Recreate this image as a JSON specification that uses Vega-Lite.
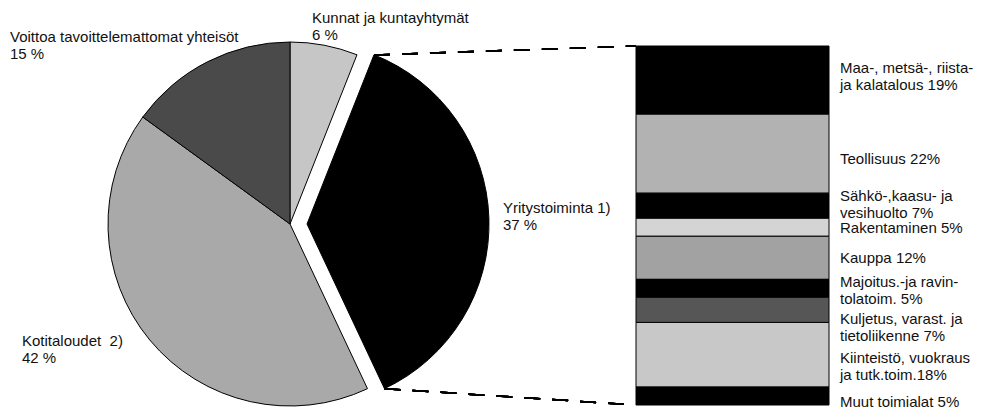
{
  "$schema": "https://vega.github.io/schema/vega-lite/v6.json",
  "background": "white",
  "padding": {"left": 0, "top": 11, "right": 0, "bottom": 0},
  "bounds": "flush",
  "spacing": 56,
  "resolve": {"scale": {"fill": "independent"}},
  "config": {
    "view": {"stroke": null},
    "font": "Liberation Sans",
    "text": {"font": "Liberation Sans", "fontSize": 15, "color": "#111"}
  },
  "hconcat": [
    {
      "width": 580,
      "height": 356,
      "data": {
        "values": [
          {"sektori": "Kunnat ja kuntayhtymät", "share": 6, "order": 1, "label": ["Kunnat ja kuntayhtymät", "6 %"]},
          {"sektori": "Yritystoiminta", "share": 37, "order": 2, "label": ["Yritystoiminta 1)", "37 %"]},
          {"sektori": "Kotitaloudet", "share": 42, "order": 3, "label": ["Kotitaloudet\u00a0 2)", "42 %"]},
          {"sektori": "Voittoa tavoittelemattomat yhteisöt", "share": 15, "order": 4, "label": ["Voittoa tavoittelemattomat yhteisöt", "15 %"]}
        ]
      },
      "transform": [
        {"stack": "share", "groupby": [], "sort": [{"field": "order"}], "as": ["t0", "t1"]}
      ],
      "layer": [
        {
          "transform": [{"filter": "datum.order != 2"}],
          "mark": {"type": "arc", "outerRadius": 182, "stroke": "black", "strokeWidth": 1},
          "encoding": {
            "theta": {"field": "t0", "type": "quantitative", "scale": {"domain": [0, 100]}},
            "theta2": {"field": "t1"},
            "fill": {
              "field": "sektori", "type": "nominal", "legend": null,
              "scale": {
                "domain": ["Kunnat ja kuntayhtymät", "Yritystoiminta", "Kotitaloudet", "Voittoa tavoittelemattomat yhteisöt"],
                "range": ["#c6c6c6", "#000000", "#a9a9a9", "#4a4a4a"]
              }
            }
          }
        },
        {
          "transform": [{"filter": "datum.order == 2"}],
          "mark": {"type": "arc", "outerRadius": 182, "stroke": "black", "strokeWidth": 1, "xOffset": 17},
          "encoding": {
            "theta": {"field": "t0", "type": "quantitative", "scale": {"domain": [0, 100]}},
            "theta2": {"field": "t1"},
            "fill": {
              "field": "sektori", "type": "nominal", "legend": null,
              "scale": {
                "domain": ["Kunnat ja kuntayhtymät", "Yritystoiminta", "Kotitaloudet", "Voittoa tavoittelemattomat yhteisöt"],
                "range": ["#c6c6c6", "#000000", "#a9a9a9", "#4a4a4a"]
              }
            }
          }
        },
        {
          "transform": [{"filter": "datum.order == 1"}],
          "mark": {"type": "text", "align": "left", "baseline": "alphabetic", "lineHeight": 17, "dx": 22, "dy": -201},
          "encoding": {"text": {"field": "label"}}
        },
        {
          "transform": [{"filter": "datum.order == 2"}],
          "mark": {"type": "text", "align": "left", "baseline": "alphabetic", "lineHeight": 17, "dx": 213, "dy": -11},
          "encoding": {"text": {"field": "label"}}
        },
        {
          "transform": [{"filter": "datum.order == 3"}],
          "mark": {"type": "text", "align": "left", "baseline": "alphabetic", "lineHeight": 17, "dx": -268, "dy": 122},
          "encoding": {"text": {"field": "label"}}
        },
        {
          "transform": [{"filter": "datum.order == 4"}],
          "mark": {"type": "text", "align": "left", "baseline": "alphabetic", "lineHeight": 17, "dx": -280, "dy": -182},
          "encoding": {"text": {"field": "label"}}
        }
      ]
    },
    {
      "width": 193,
      "height": 359,
      "data": {
        "values": [
          {"toimiala": "Maa-, metsä-, riista- ja kalatalous", "share": 19, "order": 1, "label": ["Maa-, metsä-, riista-", "\u00a0ja kalatalous 19%"]},
          {"toimiala": "Teollisuus", "share": 22, "order": 2, "label": ["Teollisuus 22%"]},
          {"toimiala": "Sähkö-, kaasu- ja vesihuolto", "share": 7, "order": 3, "label": ["Sähkö-,kaasu- ja", "vesihuolto 7%"]},
          {"toimiala": "Rakentaminen", "share": 5, "order": 4, "label": ["Rakentaminen 5%"]},
          {"toimiala": "Kauppa", "share": 12, "order": 5, "label": ["Kauppa 12%"]},
          {"toimiala": "Majoitus- ja ravitsemistoiminta", "share": 5, "order": 6, "label": ["Majoitus.-ja ravin-", "tolatoim. 5%"]},
          {"toimiala": "Kuljetus, varastointi ja tietoliikenne", "share": 7, "order": 7, "label": ["Kuljetus, varast. ja", "tietoliikenne 7%"]},
          {"toimiala": "Kiinteistö, vuokraus ja tutkimustoiminta", "share": 18, "order": 8, "label": ["Kiinteistö, vuokraus", "ja tutk.toim.18%"]},
          {"toimiala": "Muut toimialat", "share": 5, "order": 9, "label": ["Muut toimialat 5%"]}
        ]
      },
      "transform": [
        {"stack": "share", "groupby": [], "sort": [{"field": "order"}], "as": ["y0", "y1"]}
      ],
      "layer": [
        {
          "mark": {"type": "rect", "stroke": "black", "strokeWidth": 1},
          "encoding": {
            "x": {"datum": 0, "type": "quantitative", "scale": {"domain": [0, 1], "nice": false, "zero": false}, "axis": null},
            "x2": {"datum": 1},
            "y": {"field": "y0", "type": "quantitative", "scale": {"domain": [0, 100], "reverse": true, "nice": false, "zero": false}, "axis": null},
            "y2": {"field": "y1"},
            "fill": {
              "field": "toimiala", "type": "nominal", "legend": null,
              "scale": {
                "domain": ["Maa-, metsä-, riista- ja kalatalous", "Teollisuus", "Sähkö-, kaasu- ja vesihuolto", "Rakentaminen", "Kauppa", "Majoitus- ja ravitsemistoiminta", "Kuljetus, varastointi ja tietoliikenne", "Kiinteistö, vuokraus ja tutkimustoiminta", "Muut toimialat"],
                "range": ["#000000", "#b2b2b2", "#000000", "#d4d4d4", "#a2a2a2", "#000000", "#565656", "#c8c8c8", "#000000"]
              }
            }
          }
        },
        {
          "mark": {"type": "rule", "color": "black", "strokeWidth": 1.5, "strokeDash": [16, 12]},
          "encoding": {
            "x": {"datum": -1.3575, "type": "quantitative", "scale": {"domain": [0, 1], "nice": false, "zero": false}, "axis": null},
            "x2": {"datum": 0},
            "y": {"datum": 2.5, "type": "quantitative", "scale": {"domain": [0, 100], "reverse": true, "nice": false, "zero": false}, "axis": null},
            "y2": {"datum": 0}
          }
        },
        {
          "mark": {"type": "rule", "color": "black", "strokeWidth": 1.5, "strokeDash": [16, 12]},
          "encoding": {
            "x": {"datum": -1.303, "type": "quantitative", "scale": {"domain": [0, 1], "nice": false, "zero": false}, "axis": null},
            "x2": {"datum": 0},
            "y": {"datum": 95.46, "type": "quantitative", "scale": {"domain": [0, 100], "reverse": true, "nice": false, "zero": false}, "axis": null},
            "y2": {"datum": 100}
          }
        },
        {
          "transform": [{"filter": {"field": "order", "oneOf": [1, 5, 7]}}],
          "mark": {"type": "text", "align": "left", "baseline": "alphabetic", "lineHeight": 17, "dx": 11, "dy": 27},
          "encoding": {
            "x": {"datum": 1, "type": "quantitative", "scale": {"domain": [0, 1], "nice": false, "zero": false}, "axis": null},
            "y": {"field": "y0", "type": "quantitative", "scale": {"domain": [0, 100], "reverse": true, "nice": false, "zero": false}, "axis": null},
            "text": {"field": "label"}
          }
        },
        {
          "transform": [{"filter": {"field": "order", "oneOf": [3, 6]}}],
          "mark": {"type": "text", "align": "left", "baseline": "alphabetic", "lineHeight": 17, "dx": 11, "dy": 8},
          "encoding": {
            "x": {"datum": 1, "type": "quantitative", "scale": {"domain": [0, 1], "nice": false, "zero": false}, "axis": null},
            "y": {"field": "y0", "type": "quantitative", "scale": {"domain": [0, 100], "reverse": true, "nice": false, "zero": false}, "axis": null},
            "text": {"field": "label"}
          }
        },
        {
          "transform": [{"filter": {"field": "order", "oneOf": [2]}}],
          "mark": {"type": "text", "align": "left", "baseline": "alphabetic", "lineHeight": 17, "dx": 11, "dy": 50},
          "encoding": {
            "x": {"datum": 1, "type": "quantitative", "scale": {"domain": [0, 1], "nice": false, "zero": false}, "axis": null},
            "y": {"field": "y0", "type": "quantitative", "scale": {"domain": [0, 100], "reverse": true, "nice": false, "zero": false}, "axis": null},
            "text": {"field": "label"}
          }
        },
        {
          "transform": [{"filter": {"field": "order", "oneOf": [4]}}],
          "mark": {"type": "text", "align": "left", "baseline": "alphabetic", "lineHeight": 17, "dx": 11, "dy": 15},
          "encoding": {
            "x": {"datum": 1, "type": "quantitative", "scale": {"domain": [0, 1], "nice": false, "zero": false}, "axis": null},
            "y": {"field": "y0", "type": "quantitative", "scale": {"domain": [0, 100], "reverse": true, "nice": false, "zero": false}, "axis": null},
            "text": {"field": "label"}
          }
        },
        {
          "transform": [{"filter": {"field": "order", "oneOf": [8]}}],
          "mark": {"type": "text", "align": "left", "baseline": "alphabetic", "lineHeight": 17, "dx": 11, "dy": 41},
          "encoding": {
            "x": {"datum": 1, "type": "quantitative", "scale": {"domain": [0, 1], "nice": false, "zero": false}, "axis": null},
            "y": {"field": "y0", "type": "quantitative", "scale": {"domain": [0, 100], "reverse": true, "nice": false, "zero": false}, "axis": null},
            "text": {"field": "label"}
          }
        },
        {
          "transform": [{"filter": {"field": "order", "oneOf": [9]}}],
          "mark": {"type": "text", "align": "left", "baseline": "alphabetic", "lineHeight": 17, "dx": 11, "dy": 20},
          "encoding": {
            "x": {"datum": 1, "type": "quantitative", "scale": {"domain": [0, 1], "nice": false, "zero": false}, "axis": null},
            "y": {"field": "y0", "type": "quantitative", "scale": {"domain": [0, 100], "reverse": true, "nice": false, "zero": false}, "axis": null},
            "text": {"field": "label"}
          }
        }
      ]
    }
  ]
}
